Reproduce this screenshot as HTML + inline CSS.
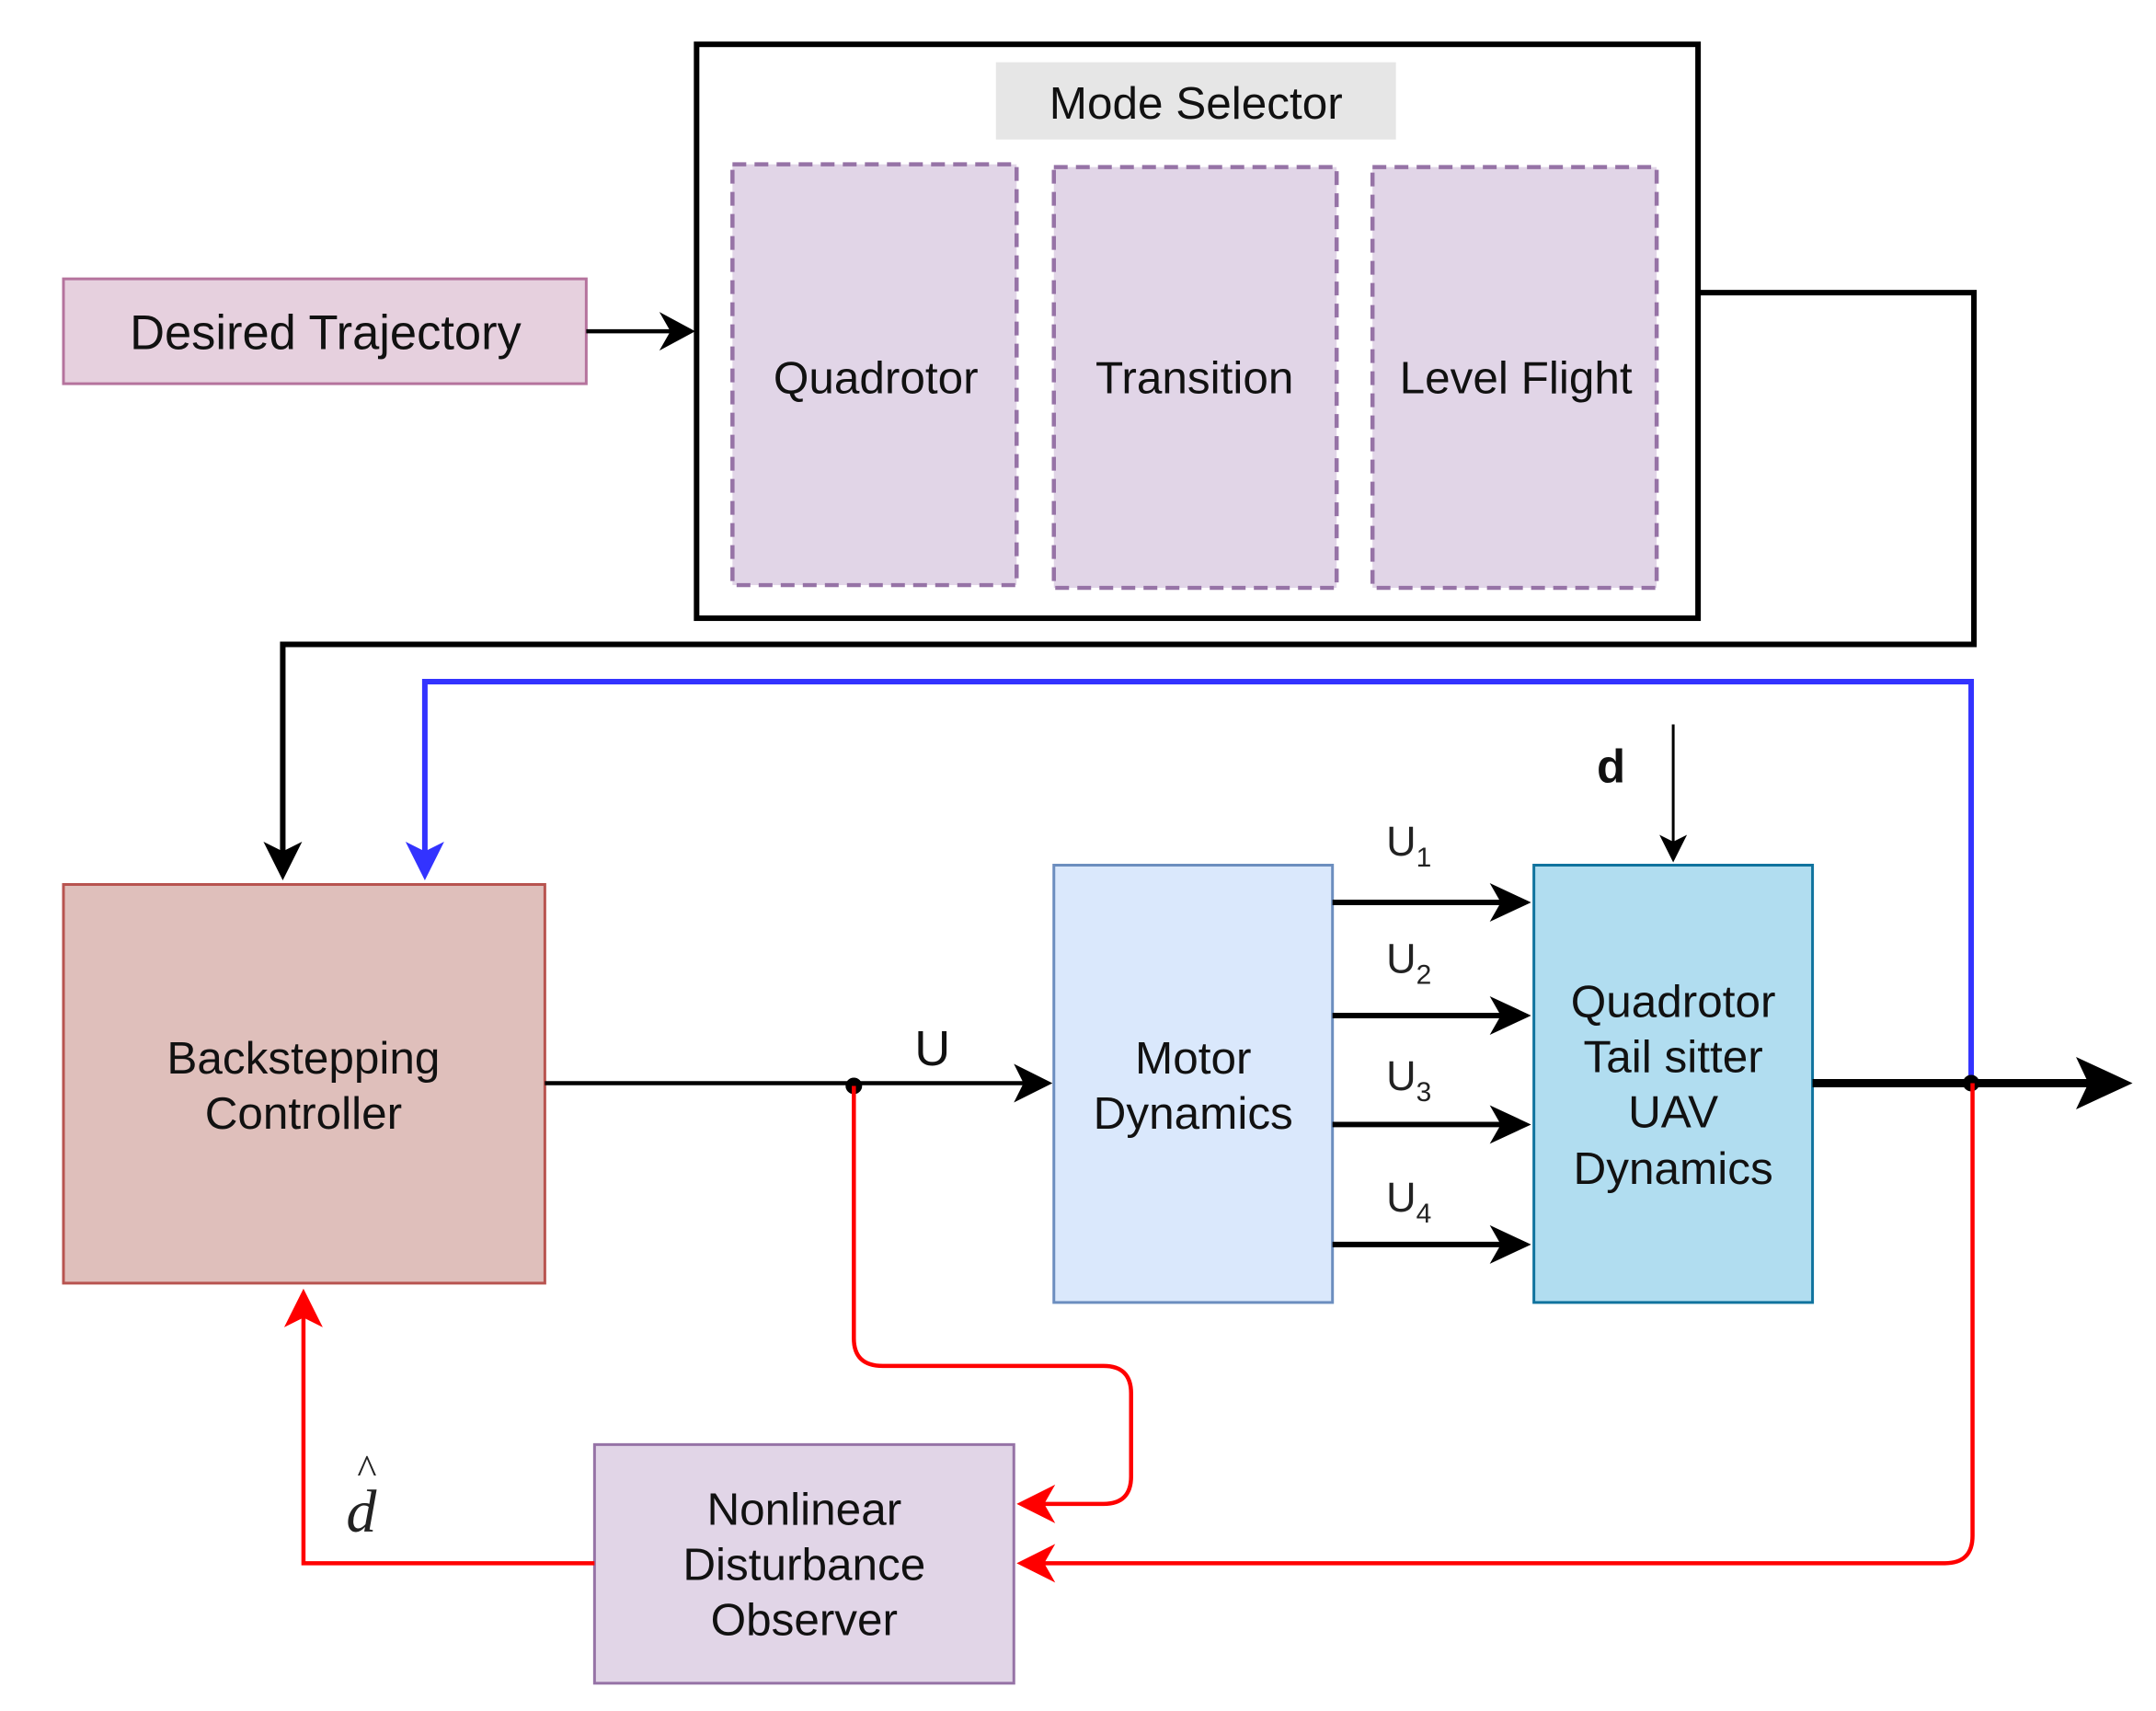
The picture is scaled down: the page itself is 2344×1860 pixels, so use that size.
<!DOCTYPE html>
<html><head><style>body{margin:0;background:#fff}svg{display:block}</style></head>
<body>
<svg width="2344" height="1860" viewBox="0 0 1563 1240" xmlns="http://www.w3.org/2000/svg" font-family="Liberation Sans, sans-serif">
<defs>
<marker id="ak" markerWidth="10" markerHeight="10" refX="9" refY="5" orient="auto" markerUnits="userSpaceOnUse" viewBox="0 0 10 10"><path d="M0,0 L10,5 L0,10 L3,5 Z" fill="#000"/></marker>
</defs>
<rect x="46" y="202" width="379" height="76" fill="#e6d0de" stroke="#b5739d" stroke-width="2"/>
<text x="236" y="253" font-size="35" text-anchor="middle" fill="#111">Desired Trajectory</text>
<line x1="425" y1="240" x2="488" y2="240" stroke="#000" stroke-width="3"/>
<path d="M478,226 L504,240 L478,254 L486,240Z"/>
<rect x="505" y="32" width="726" height="416" fill="#fff" stroke="#000" stroke-width="4"/>
<rect x="722" y="45" width="290" height="56" fill="#e6e6e6"/>
<text x="867" y="86" font-size="33" text-anchor="middle" fill="#111">Mode Selector</text>
<g fill="#e1d5e7" stroke="#9673a6" stroke-width="3" stroke-dasharray="10,6">
<rect x="531" y="119" width="206" height="305"/>
<rect x="764" y="121" width="205" height="305"/>
<rect x="995" y="121" width="206" height="305"/>
</g>
<g font-size="33" text-anchor="middle" fill="#111">
<text x="635" y="285">Quadrotor</text>
<text x="866" y="285">Transition</text>
<text x="1099" y="285">Level Flight</text>
</g>
<polyline points="1231,212 1431,212 1431,467 205,467 205,620" fill="none" stroke="#000" stroke-width="4"/>
<path d="M191,610 L205,638 L219,610 L205,617Z"/>
<polyline points="1429,785 1429,494 308,494 308,620" fill="none" stroke="#3333ff" stroke-width="4"/>
<path d="M294,610 L308,638 L322,610 L308,617Z" fill="#3333ff"/>
<rect x="46" y="641" width="349" height="289" fill="#dfbfbb" stroke="#b85450" stroke-width="2"/>
<text x="220" y="778" font-size="33" text-anchor="middle" fill="#111">Backstepping</text>
<text x="220" y="818" font-size="33" text-anchor="middle" fill="#111">Controller</text>
<line x1="395" y1="785" x2="745" y2="785" stroke="#000" stroke-width="3"/>
<path d="M735,771 L763,785 L735,799 L742,785Z"/>
<text x="676" y="772" font-size="36" text-anchor="middle" fill="#111">U</text>
<rect x="764" y="627" width="202" height="317" fill="#dae8fc" stroke="#6c8ebf" stroke-width="2"/>
<text x="865" y="778" font-size="33" text-anchor="middle" fill="#111">Motor</text>
<text x="865" y="818" font-size="33" text-anchor="middle" fill="#111">Dynamics</text>
<rect x="1112" y="627" width="202" height="317" fill="#b1ddf0" stroke="#10739e" stroke-width="2"/>
<g font-size="33" text-anchor="middle" fill="#111">
<text x="1213" y="737">Quadrotor</text>
<text x="1213" y="777">Tail sitter</text>
<text x="1213" y="817">UAV</text>
<text x="1213" y="858">Dynamics</text>
</g>
<g stroke="#000" stroke-width="4">
<line x1="966" y1="654" x2="1095" y2="654"/>
<line x1="966" y1="736" x2="1095" y2="736"/>
<line x1="966" y1="815" x2="1095" y2="815"/>
<line x1="966" y1="902" x2="1095" y2="902"/>
</g>
<g>
<path d="M1080,640 L1110,654 L1080,668 L1088,654Z"/>
<path d="M1080,722 L1110,736 L1080,750 L1088,736Z"/>
<path d="M1080,801 L1110,815 L1080,829 L1088,815Z"/>
<path d="M1080,888 L1110,902 L1080,916 L1088,902Z"/>
</g>
<g font-size="30" fill="#222">
<text x="1005" y="620">U<tspan font-size="20" dy="8">1</tspan></text>
<text x="1005" y="705">U<tspan font-size="20" dy="8">2</tspan></text>
<text x="1005" y="790">U<tspan font-size="20" dy="8">3</tspan></text>
<text x="1005" y="878">U<tspan font-size="20" dy="8">4</tspan></text>
</g>
<text x="1168" y="567" font-size="34" font-weight="bold" text-anchor="middle" fill="#111">d</text>
<line x1="1213" y1="525" x2="1213" y2="610" stroke="#000" stroke-width="2"/>
<path d="M1203,605 L1213,625 L1223,605 L1213,610Z"/>
<line x1="1314" y1="785" x2="1520" y2="785" stroke="#000" stroke-width="6"/>
<path d="M1505,766 L1546,785 L1505,804 L1514,785Z"/>
<circle cx="1429" cy="785" r="6"/>
<circle cx="619" cy="787" r="6"/>
<path d="M619,787 L619,970 Q619,990 640,990 L800,990 Q820,990 820,1010 L820,1070 Q820,1090 800,1090 L755,1090" fill="none" stroke="#ff0000" stroke-width="3"/>
<path d="M765,1076 L737,1090 L765,1104 L757,1090Z" fill="#ff0000"/>
<path d="M1430,785 L1430,1113 Q1430,1133 1410,1133 L755,1133" fill="none" stroke="#ff0000" stroke-width="3"/>
<path d="M765,1119 L737,1133 L765,1147 L757,1133Z" fill="#ff0000"/>
<rect x="431" y="1047" width="304" height="173" fill="#e1d5e7" stroke="#9673a6" stroke-width="2"/>
<g font-size="33" text-anchor="middle" fill="#111">
<text x="583" y="1105">Nonlinear</text>
<text x="583" y="1145">Disturbance</text>
<text x="583" y="1185">Observer</text>
</g>
<polyline points="431,1133 220,1133 220,950" fill="none" stroke="#ff0000" stroke-width="3"/>
<path d="M206,962 L220,934 L234,962 L220,955Z" fill="#ff0000"/>
<text x="262" y="1110" font-size="44" font-style="italic" font-family="Liberation Serif, serif" text-anchor="middle" fill="#222">d</text>
<text x="266" y="1075" font-size="30" font-family="Liberation Serif, serif" text-anchor="middle" fill="#222">^</text>
</svg>
</body></html>
